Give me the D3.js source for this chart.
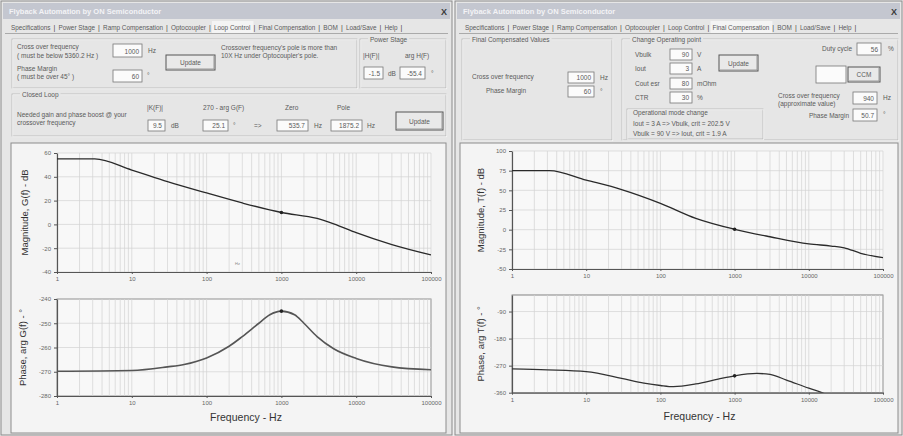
<!DOCTYPE html>
<html>
<head>
<meta charset="utf-8">
<script src="https://cdnjs.cloudflare.com/ajax/libs/d3/7.8.5/d3.min.js"></script>
<style>
    body { margin: 0; background: #efefef; }
    svg { display: block; font-family: "Liberation Sans", Arial, sans-serif; }
    .ui { font-size: 6.5px; fill: #5a5a5a; }
    .axis text { font-size: 6px; fill: #666; }
    .axis path, .axis line { stroke: #555; }
    .grid line { stroke: #d2d2d2; stroke-width: 0.7; }
    .axis-title { fill: #333; }
</style>
</head>
<body>
<div id="chart"></div>
<script>

// ---- data ----
const freqTicks = [1, 10, 100, 1000, 10000, 100000];
const tabLabels = ["Specifications", "Power Stage", "Ramp Compensation", "Optocoupler", "Loop Control",
    "Final Compensation", "BOM", "Load/Save", "Help"];

const gMagTicks = [-40, -20, 0, 20, 40, 60];
const gPhaseTicks = [-280, -270, -260, -250, -240];
const tMagTicks = [-50, -25, 0, 25, 50, 75, 100];
const tPhaseTicks = [-360, -270, -180, -90];

// [frequency Hz, value]
const gMag = [[1, 55], [3.2, 55], [10, 45.7], [30, 36], [100, 26.4], [300, 18], [1000, 10],
    [3000, 5], [5000, 0.5], [10000, -7], [30000, -17], [100000, -25.7]];
const gPhase = [[1, -269.8], [10, -269.5], [30, -268], [50, -267], [100, -264.3], [200, -259.5],
    [300, -255.5], [500, -250], [700, -246.5], [1000, -245], [1500, -246.5], [2000, -250],
    [3000, -255.5], [5000, -260.5], [10000, -264.5], [30000, -268], [100000, -269.2]];
const tMag = [[1, 75], [3.2, 75], [10, 63], [30, 51], [100, 33.5], [300, 14.4], [1000, 0.5],
    [3000, -9], [10000, -18], [20000, -20.8], [30000, -23], [50000, -30], [100000, -35.6]];
const tPhase = [[1, -281], [3, -284], [10, -290], [30, -312], [60, -328], [100, -336], [150, -340],
    [300, -331], [600, -315], [1000, -304], [2000, -296], [3000, -299], [5000, -318],
    [10000, -345], [15000, -360], [20000, -372]];

const svg = d3.select("#chart").append("svg")
    .attr("width", 903)
    .attr("height", 436);

// ---- small UI helpers ----
function label(x, y, str, opts = {}) {
    return svg.append("text")
        .attr("class", "ui")
        .attr("x", x).attr("y", y)
        .attr("text-anchor", opts.anchor || "start")
        .style("font-size", opts.size ? opts.size + "px" : null)
        .style("font-weight", opts.bold ? "bold" : null)
        .style("fill", opts.color || null)
        .text(str);
}

function field(x, y, w, h, value) {
    svg.append("rect").attr("x", x).attr("y", y).attr("width", w).attr("height", h)
        .attr("fill", "#fbfbfb").attr("stroke", "#777").attr("stroke-width", 0.8);
    if (value !== "") label(x + w - 3, y + h - 3.5, value, {anchor: "end"});
}

function button(x, y, w, h, str) {
    svg.append("rect").attr("x", x).attr("y", y).attr("width", w).attr("height", h)
        .attr("fill", "#e9e9e9").attr("stroke", "#555").attr("stroke-width", 1);
    svg.append("path").attr("d", `M${x + 1},${y + h - 1}H${x + w - 1}V${y + 1}`)
        .attr("fill", "none").attr("stroke", "#999");
    label(x + w / 2, y + h / 2 + 2.5, str, {anchor: "middle"});
}

function group(x, y, w, h, title) {
    svg.append("rect").attr("x", x).attr("y", y).attr("width", w).attr("height", h)
        .attr("fill", "none").attr("stroke", "#b4b4b4").attr("stroke-width", 0.8);
    svg.append("rect").attr("x", x + 0.8).attr("y", y + 0.8).attr("width", w).attr("height", h)
        .attr("fill", "none").attr("stroke", "#fafafa").attr("stroke-width", 0.6);
    if (title) {
        let t = label(x + 10, y + 3, title);
        let len = t.node().getComputedTextLength();
        svg.append("rect")
            .attr("x", x + 8).attr("y", y - 2).attr("width", len + 4).attr("height", 6)
            .attr("fill", "#e6e6e6");
        t.raise();
    }
}

function windowFrame(x0, x1, title, activeTab) {
    svg.append("rect").attr("x", x0).attr("y", 1).attr("width", x1 - x0).attr("height", 434)
        .attr("fill", "#e6e6e6").attr("stroke", "#8a8a8a");
    svg.append("rect").attr("x", x0 + 2).attr("y", 3).attr("width", x1 - x0 - 4).attr("height", 16)
        .attr("fill", "#c4c7d0");
    label(x0 + 8, 14, title, {size: 7.5, bold: true, color: "#f3f3f6"});
    label(x1 - 8, 15, "X", {size: 9, bold: true, color: "#3a3a3a", anchor: "middle"});

    // tab strip, laid out from the measured width of each label
    let cx = x0 + 9;
    tabLabels.forEach(t => {
        let txt = label(cx + 1, 30, t, {size: 6.4});
        let w = txt.node().getComputedTextLength();
        if (t === activeTab) {
            svg.append("rect")
                .attr("x", cx - 1).attr("y", 21).attr("width", w + 5).attr("height", 12)
                .attr("fill", "#f4f4f4");
            txt.raise();
        }
        cx += w + 4;
        label(cx, 30, "|", {size: 7, color: "#444"});
        cx += 4;
    });
    svg.append("line").attr("x1", x0 + 4).attr("x2", x1 - 4).attr("y1", 33.5).attr("y2", 33.5)
        .attr("stroke", "#aaa");
}

// ---- Bode plot panel ----
class BodePlot {

    constructor(parent, config) {
        this.parent = parent;
        Object.assign(this, config);
        this.initVis();
    }

    initVis() {
        let vis = this;

        vis.x = d3.scaleLog().domain([1, 100000]).range([vis.left, vis.right]);
        vis.y = d3.scaleLinear().domain(vis.yDomain).range([vis.bottom, vis.top]);

        vis.g = vis.parent.append("g");

        vis.g.append("rect")
            .attr("x", vis.left).attr("y", vis.top)
            .attr("width", vis.right - vis.left).attr("height", vis.bottom - vis.top)
            .attr("fill", "#f8f8f8")
            .attr("stroke", vis.boxed ? "#666" : "none")
            .attr("stroke-width", 0.8);

        // minor log grid (1..9 per decade)
        let minor = [];
        freqTicks.slice(0, -1).forEach(d => {
            for (let k = 1; k < 10; k++) minor.push(d * k);
        });
        minor.push(100000);

        vis.g.append("g").attr("class", "grid")
            .selectAll("line").data(minor).join("line")
            .attr("x1", d => vis.x(d)).attr("x2", d => vis.x(d))
            .attr("y1", vis.top).attr("y2", vis.bottom);

        vis.g.append("g").attr("class", "grid")
            .selectAll("line").data(vis.yTicks).join("line")
            .attr("x1", vis.left).attr("x2", vis.right)
            .attr("y1", d => vis.y(d)).attr("y2", d => vis.y(d));

        vis.g.append("g")
            .attr("class", "axis")
            .attr("transform", `translate(${vis.left},0)`)
            .call(d3.axisLeft(vis.y).tickValues(vis.yTicks).tickSize(3).tickSizeOuter(0)
                .tickFormat(d => String(d)));

        vis.g.append("g")
            .attr("class", "axis")
            .attr("transform", `translate(0,${vis.bottom})`)
            .call(d3.axisBottom(vis.x).tickValues(freqTicks).tickSize(2).tickSizeOuter(0)
                .tickFormat(d => String(d)));

        vis.g.selectAll(".axis path").attr("stroke-width", 1.2);

        // curve, clipped to the plot area
        vis.g.append("clipPath").attr("id", vis.id)
            .append("rect")
            .attr("x", vis.left).attr("y", vis.top)
            .attr("width", vis.right - vis.left).attr("height", vis.bottom - vis.top);

        vis.line = d3.line()
            .x(d => vis.x(d[0]))
            .y(d => vis.y(d[1]))
            .curve(d3.curveMonotoneX);

        vis.g.append("path")
            .datum(vis.data)
            .attr("clip-path", `url(#${vis.id})`)
            .attr("fill", "none")
            .attr("stroke", vis.color)
            .attr("stroke-width", vis.width || 1.3)
            .attr("d", vis.line);

        // operating point at the 1 kHz crossover
        let pt = vis.data.find(d => d[0] === 1000);
        vis.g.append("circle")
            .attr("cx", vis.x(pt[0])).attr("cy", vis.y(pt[1]))
            .attr("r", 1.8).attr("fill", "#222");

        vis.g.append("text")
            .attr("class", "axis-title")
            .attr("transform", `translate(${vis.titleX},${(vis.top + vis.bottom) / 2}) rotate(-90)`)
            .attr("text-anchor", "middle")
            .style("font-size", "9.5px")
            .text(vis.title);

        if (vis.xTitle) {
            vis.g.append("text")
                .attr("class", "axis-title")
                .attr("x", (vis.left + vis.right) / 2 + 2)
                .attr("y", vis.xTitleY)
                .attr("text-anchor", "middle")
                .style("font-size", "10.5px")
                .text(vis.xTitle);
        }
    }
}

// ================= left window : Loop Control =================
windowFrame(1, 452, "Flyback Automation by ON Semiconductor", "Loop Control");

group(12, 39, 345, 49, "");
label(17, 49, "Cross over frequency");
label(17, 58, "( must be below 5360.2 Hz )");
field(113, 44, 29, 13, "1000");
label(148, 53, "Hz");
label(17, 71, "Phase Margin");
label(17, 79, "( must be over 45° )");
field(113, 70, 29, 12, "60");
label(147, 78, "°");
button(166, 55, 49, 15, "Update");
label(221, 50, "Crossover frequency's pole is more than");
label(221, 58, "10X Hz under Optocoupler's pole.");

group(360, 39, 86, 49, "Power Stage");
label(363, 58, "|H(F)|");
label(405, 58, "arg H(F)");
field(364, 67, 19, 12, "-1.5");
label(388, 76, "dB");
field(400, 67, 25, 12, "-55.4");
label(431, 76, "°");

group(12, 94, 434, 42, "Closed Loop");
label(17, 117, "Needed gain and phase boost @ your");
label(17, 125, "crossover frequency");
label(147, 110, "|K(F)|");
label(203, 110, "270 - arg G(F)");
label(285, 110, "Zero");
label(337, 110, "Pole");
field(148, 120, 17, 11, "9.5");
label(171, 128, "dB");
field(203, 120, 25, 11, "25.1");
label(233, 128, "°");
label(254, 128, "=>");
field(277, 120, 31, 11, "535.7");
label(314, 128, "Hz");
field(331, 120, 31, 11, "1875.2");
label(367, 128, "Hz");
button(396, 112, 47, 18, "Update");

svg.append("rect").attr("x", 11).attr("y", 143).attr("width", 435).attr("height", 290)
    .attr("fill", "#f4f4f4").attr("stroke", "#8c8c8c");

new BodePlot(svg, {
    id: "clipGm", left: 57, right: 431, top: 153, bottom: 272,
    yDomain: [-40, 60], yTicks: gMagTicks, data: gMag, color: "#2a2a2a",
    title: "Magnitude, G(f) - dB", titleX: 28
});
label(235, 265, "Hz", {size: 4, color: "#888"});
new BodePlot(svg, {
    id: "clipGp", left: 57, right: 431, top: 299, bottom: 396, boxed: true,
    yDomain: [-280, -240], yTicks: gPhaseTicks, data: gPhase, color: "#555", width: 1.6,
    title: "Phase, arg G(f) - °", titleX: 26,
    xTitle: "Frequency - Hz", xTitleY: 421
});

// ================= right window : Final Compensation =================
windowFrame(455, 902, "Flyback Automation by ON Semiconductor", "Final Compensation");

group(462, 39, 150, 101, "Final Compensated Values");
label(472, 79, "Cross over frequency");
field(568, 72, 26, 11, "1000");
label(600, 80, "Hz");
label(486, 93, "Phase Margin");
field(568, 86, 26, 11, "60");
label(600, 94, "°");

group(622, 39, 276, 101, "Change Operating point");
label(635, 57, "Vbulk");
field(670, 49, 22, 11, "90");
label(697, 57, "V");
label(635, 71, "Iout");
field(670, 63, 22, 11, "3");
label(697, 71, "A");
label(635, 86, "Cout esr");
field(670, 78, 22, 11, "80");
label(697, 86, "mOhm");
label(635, 100, "CTR");
field(670, 92, 22, 11, "30");
label(697, 100, "%");
button(719, 55, 39, 16, "Update");

group(627, 109, 136, 30, "");
label(633, 115, "Operational mode change");
label(633, 126, "Iout = 3 A => Vbulk, crit = 202.5 V");
label(633, 136, "Vbulk = 90 V => Iout, crit = 1.9 A");

label(852, 51, "Duty cycle", {anchor: "end"});
field(857, 43, 24, 12, "56");
label(888, 51, "%");
field(816, 66, 30, 17, "");
button(848, 67, 32, 15, "CCM");
label(778, 98, "Cross over frequency");
label(778, 106, "(approximate value)");
field(853, 92, 24, 12, "940");
label(883, 100, "Hz");
label(849, 118, "Phase Margin", {anchor: "end"});
field(853, 109, 24, 12, "50.7");
label(883, 117, "°");

svg.append("rect").attr("x", 460).attr("y", 143).attr("width", 438).attr("height", 290)
    .attr("fill", "#f4f4f4").attr("stroke", "#8c8c8c");

new BodePlot(svg, {
    id: "clipTm", left: 512, right: 883, top: 151, bottom: 269,
    yDomain: [-50, 100], yTicks: tMagTicks, data: tMag, color: "#2a2a2a",
    title: "Magnitude, T(f) - dB", titleX: 484
});
new BodePlot(svg, {
    id: "clipTp", left: 512, right: 883, top: 295, bottom: 392.7, boxed: true,
    yDomain: [-360, -35], yTicks: tPhaseTicks, data: tPhase, color: "#333",
    title: "Phase, arg T(f) - °", titleX: 484,
    xTitle: "Frequency - Hz", xTitleY: 420
});

</script>
</body>
</html>
